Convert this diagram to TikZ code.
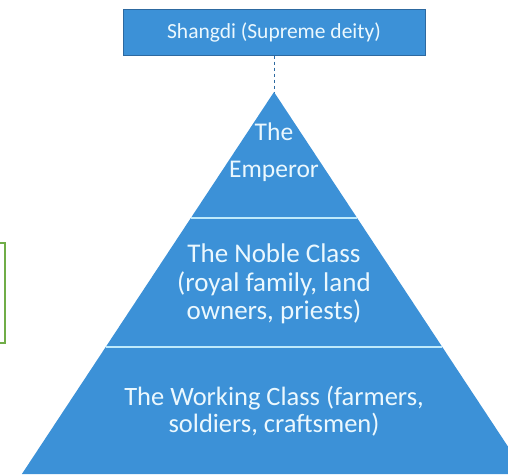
\documentclass[tikz,border=0pt]{standalone}
\usepackage{fontspec}
\setmainfont{Carlito}

\definecolor{pyrblue}{RGB}{60,145,215}
\definecolor{boxedge}{RGB}{45,105,160}
\definecolor{notegreen}{RGB}{112,173,71}

\tikzset{
	divider/.style={draw=white!75!cyan,line width=1.5pt},
	leveltext/.style={text=white!92!cyan,align=center,inner sep=0pt},
}

\begin{document}
\begin{tikzpicture}[x=1pt,y=-1pt]
	\useasboundingbox (0,0) rectangle (508,474);
	\clip (0,0) rectangle (508,474);

	% top of the hierarchy
	\node[draw=boxedge,fill=pyrblue,line width=1pt,minimum width=302pt,minimum height=46pt,inner sep=0pt,text=white!92!cyan,font=\fontsize{21.5}{25}\selectfont] (shangdi) at (274,32) {\raisebox{-1.5pt}{Shangdi (Supreme deity)}};
	\coordinate (apex) at (274,92);
	\draw[dashed,boxedge,line width=1pt] (shangdi.south) -- (apex);

	% pyramid
	\fill[pyrblue] (apex) -- (526.1,474) -- (21.9,474) -- cycle;
	\draw[divider] (190.8,218) -- (357.2,218);
	\draw[divider] (105.7,347) -- (442.3,347);

	\node[leveltext,font=\fontsize{25.5}{37}\selectfont] (emperor) at (274,152) {The\\Emperor};
	\node[leveltext,font=\fontsize{27}{28.5}\selectfont] (noble) at (274,284) {The Noble Class\\(royal family, land\\owners, priests)};
	\node[leveltext,font=\fontsize{26.5}{27}\selectfont] (working) at (274,411) {The Working Class (farmers,\\soldiers, craftsmen)};

	% green frame cut by the left edge
	\draw[notegreen,line width=2pt] (-20,243) rectangle (5,343);
\end{tikzpicture}
\end{document}
